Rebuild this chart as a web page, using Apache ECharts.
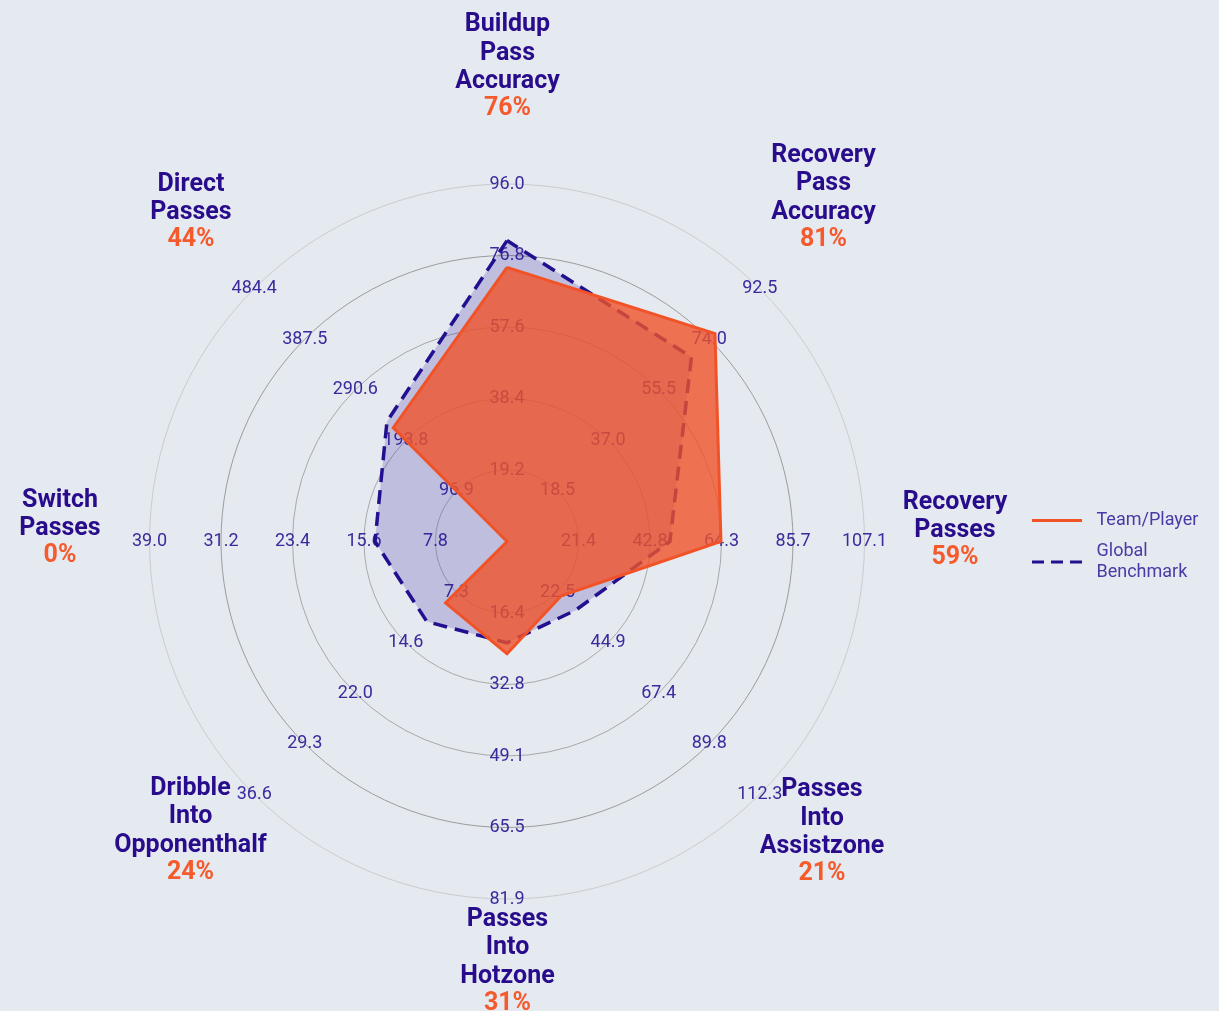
<!DOCTYPE html>
<html>
<head>
<meta charset="utf-8">
<script src="https://cdn.jsdelivr.net/npm/echarts@6/dist/echarts.min.js"></script>
<style>
  html, body { margin: 0; padding: 0; background: #e5e9f0; }
  #chart { width: 1219px; height: 1011px; }
</style>
</head>
<body>
<div id="chart"></div>
<script>
// ---- data (counter-clockwise from top, as ECharts radar lays indicators out) ----
const categories = [
  'Buildup Pass Accuracy', 'Direct Passes', 'Switch Passes', 'Dribble Into Opponenthalf',
  'Passes Into Hotzone', 'Passes Into Assistzone', 'Recovery Passes', 'Recovery Pass Accuracy'
];
const axisMax = [96.0, 484.4, 39.0, 36.6, 81.9, 112.3, 107.1, 92.5];
const teamValues = [73.6, 218, 0, 8.9, 25.7, 24.1, 64.1, 76.1];
const benchmarkValues = [80.8, 230, 14.4, 11.6, 23.2, 30.5, 48.8, 67.5];
const percentiles = ['76%', '44%', '0%', '24%', '31%', '21%', '59%', '81%'];
const tickLabels = [
  ['19.2', '38.4', '57.6', '76.8', '96.0'],
  ['96.9', '193.8', '290.6', '387.5', '484.4'],
  ['7.8', '15.6', '23.4', '31.2', '39.0'],
  ['7.3', '14.6', '22.0', '29.3', '36.6'],
  ['16.4', '32.8', '49.1', '65.5', '81.9'],
  ['22.5', '44.9', '67.4', '89.8', '112.3'],
  ['21.4', '42.8', '64.3', '85.7', '107.1'],
  ['18.5', '37.0', '55.5', '74.0', '92.5']
];
const seriesNames = ['Team/Player', 'Global Benchmark'];

// ---- layout (label block anchors: centre x, first line centre y) ----
const nameAnchors = [
  [507.5, 25], [191, 184.5], [60, 500.5], [190.5, 788.5],
  [507.5, 919.5], [822, 790], [955, 502.5], [823.5, 155.5]
];

const NAVY = '#280c8c';
const ORANGE = '#f25325';
const TICK = '#3b2a9c';
const FONT = 'Roboto, "Noto Sans", sans-serif';

const chart = echarts.init(document.getElementById('chart'), null, { renderer: 'canvas' });

const indicator = categories.map((name, i) => ({
  name: name,
  min: 0,
  max: axisMax[i],
  axisLabel: {
    formatter: function (v) {
      if (!v) return '';
      const k = Math.round(v / (axisMax[i] / 5)) - 1;
      return tickLabels[i][k] != null ? tickLabels[i][k] : (+v).toFixed(1);
    }
  }
}));

const nameLineH = 28.5;
const graphics = categories.map((name, i) => {
  const lines = name.split(' ').map(w => '{n|' + w + '}');
  lines.push('{p|' + percentiles[i] + '}');
  return {
    type: 'text',
    x: nameAnchors[i][0],
    y: nameAnchors[i][1] - nameLineH / 2,
    silent: true,
    style: {
      text: lines.join('\n'),
      align: 'center',
      verticalAlign: 'top',
      fontSize: 25,
      fontFamily: FONT,
      fontWeight: 'bold',
      rich: {
        n: { fill: NAVY, fontSize: 25, fontWeight: 'bold', fontFamily: FONT, lineHeight: nameLineH, align: 'center' },
        p: { fill: '#f55a2d', fontSize: 25, fontWeight: 'bold', fontFamily: FONT, lineHeight: 25, align: 'center' }
      }
    }
  };
});

const option = {
  backgroundColor: '#e5e9f0',
  animation: false,
  legend: {
    orient: 'vertical',
    left: 1027,
    top: 505,
    itemWidth: 51,
    itemHeight: 3,
    itemGap: 10,
    selectedMode: false,
    data: [
      { name: seriesNames[0], icon: 'path://M0,0H50V3H0Z', itemStyle: { color: ORANGE } },
      { name: seriesNames[1], icon: 'path://M0,0H12V3H0Z M19,0H31V3H19Z M38,0H50V3H38Z', itemStyle: { color: '#22108f' } }
    ],
    formatter: function (n) { return n === 'Global Benchmark' ? 'Global\nBenchmark' : n; },
    textStyle: { color: '#4a3aa5', fontSize: 18, fontFamily: FONT, lineHeight: 21, padding: [0, 0, 0, 9] }
  },
  radar: {
    center: [507, 541.5],
    radius: 357.5,
    startAngle: 90,
    splitNumber: 5,
    shape: 'circle',
    indicator: indicator,
    axisName: { show: false },
    axisLine: { show: false },
    axisTick: { show: false },
    axisLabel: {
      show: true,
      margin: 0,
      align: 'center',
      verticalAlign: 'middle',
      color: TICK,
      fontSize: 18,
      fontFamily: FONT,
      showMinLabel: false
    },
    splitLine: {
      show: true,
      lineStyle: { color: ['#b0b0b0', '#b0b0b0', '#aaaaaa', '#a8a8a8', '#9c9c9c', '#cbcccf'], width: 1 }
    },
    splitArea: { show: false }
  },
  series: [{
    type: 'radar',
    symbol: 'none',
    data: [
      {
        name: seriesNames[1],
        value: benchmarkValues,
        itemStyle: { color: '#22108f' },
        lineStyle: { color: '#22108f', width: 3.5, type: [14, 8], join: 'miter' },
        areaStyle: { color: 'rgba(40,20,150,0.2)', opacity: 1 }
      },
      {
        name: seriesNames[0],
        value: teamValues,
        itemStyle: { color: ORANGE },
        lineStyle: { color: ORANGE, width: 3, join: 'miter' },
        areaStyle: { color: 'rgba(240,82,42,0.8)', opacity: 1 }
      }
    ]
  }],
  graphic: graphics
};

chart.setOption(option);
</script>
</body>
</html>
